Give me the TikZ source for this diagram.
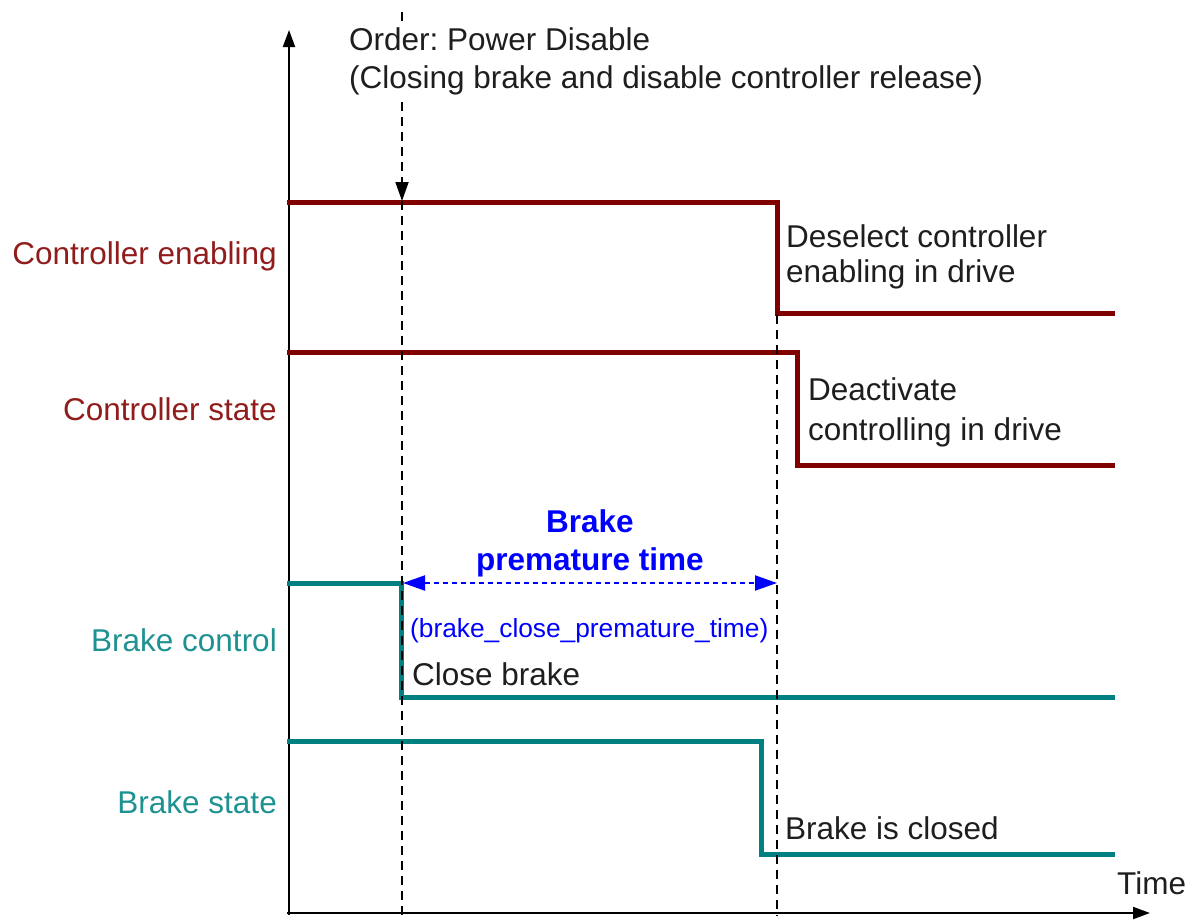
\documentclass[tikz,border=0pt]{standalone}
\usepackage{fontspec}
\setmainfont{Liberation Sans}
\frenchspacing
\usetikzlibrary{arrows.meta}
\definecolor{sigred}{RGB}{128,0,0}
\definecolor{lblred}{RGB}{145,28,28}
\definecolor{sigteal}{RGB}{0,128,128}
\definecolor{lblteal}{RGB}{30,145,145}
\definecolor{txt}{RGB}{30,30,30}
\definecolor{dimblue}{RGB}{0,0,255}
\begin{document}
\begin{tikzpicture}[x=1pt,y=-1pt,line join=miter,
  sigR/.style={draw=sigred,line width=5pt},
  sigT/.style={draw=sigteal,line width=5pt},
  axisline/.style={draw=black,line width=2pt,-{Triangle[length=17pt,width=12pt]}},
  guide/.style={draw=black,line width=1.8pt,dash pattern=on 9pt off 6pt},
  dimline/.style={draw=dimblue,line width=2pt,dash pattern=on 5pt off 4pt,
    {Triangle[length=22pt,width=15pt]}-{Triangle[length=22pt,width=15pt]}},
  lbl/.style={inner sep=0pt,font=\fontsize{31.5}{36}\selectfont},
  note/.style={inner sep=0pt,text=txt,align=left,anchor=north west},
]
\useasboundingbox (0,0) rectangle (1194,919);

% axes
\coordinate (origin) at (289,915);
\coordinate (ytop) at (289,30);
\coordinate (xend) at (1150,913);
\coordinate (xstart) at (287,913);
\draw[axisline] (origin) -- (ytop);
\draw[axisline] (xstart) -- (xend);

% signals
\coordinate (ce0) at (287,202); \coordinate (ce1) at (777,202);
\coordinate (ce2) at (777,313); \coordinate (ce3) at (1115,313);
\draw[sigR] (ce0) -- (ce1) -- (ce2) -- (ce3);
\coordinate (cs0) at (287,352); \coordinate (cs1) at (797,352);
\coordinate (cs2) at (797,465); \coordinate (cs3) at (1115,465);
\draw[sigR] (cs0) -- (cs1) -- (cs2) -- (cs3);
\coordinate (bc0) at (287,583); \coordinate (bc1) at (401,583);
\coordinate (bc2) at (401,697); \coordinate (bc3) at (1115,697);
\draw[sigT] (bc0) -- (bc1) -- (bc2) -- (bc3);
\coordinate (bs0) at (287,741); \coordinate (bs1) at (761,741);
\coordinate (bs2) at (761,854); \coordinate (bs3) at (1115,854);
\draw[sigT] (bs0) -- (bs1) -- (bs2) -- (bs3);

% guide lines
\coordinate (g1top) at (402,12);
\coordinate (g1arr) at (402,201);
\coordinate (g1bot) at (402,916);
\coordinate (g2top) at (777,315);
\coordinate (g2bot) at (777,916);
\draw[guide,-{Triangle[length=19pt,width=13pt]}] (g1top) -- (g1arr);
\draw[guide] (g1arr) -- (g1bot);
\draw[guide] (g2top) -- (g2bot);

% order text
\node[note,fill=white,inner sep=2pt,font=\fontsize{31.5}{38}\selectfont] (order) at (347,25)
  {Order: Power Disable\\(Closing brake and disable controller release)};

% left labels
\node[lbl,text=lblred,anchor=base east] (lce) at (277,264) {Controller enabling};
\node[lbl,text=lblred,anchor=base east] (lcs) at (277,420) {Controller state};
\node[lbl,text=lblteal,anchor=base east] (lbc) at (277,651) {Brake control};
\node[lbl,text=lblteal,anchor=base east] (lbs) at (277,813) {Brake state};

% notes
\node[note,font=\fontsize{31.5}{35}\selectfont] (desel) at (786,224)
  {Deselect controller\\enabling in drive};
\node[note,font=\fontsize{31.5}{40}\selectfont] (deact) at (808,377)
  {Deactivate\\controlling in drive};
\node[lbl,text=txt,anchor=base west] (close) at (412,685) {Close brake};
\node[lbl,text=txt,anchor=base west] (closed) at (785,839) {Brake is closed};
\node[lbl,text=txt,anchor=base west] (time) at (1117,894) {Time};

% dimension
\coordinate (d1) at (403,583);
\coordinate (d2) at (777,583);
\draw[dimline] (d1) -- (d2);
\node[inner sep=0pt,text=dimblue,align=center,anchor=north,
  font=\fontsize{31.5}{38}\bfseries\selectfont] (ptime) at (590,509)
  {Brake\\premature time};
\node[inner sep=0pt,text=dimblue,anchor=base west,
  font=\fontsize{26.3}{30}\selectfont] (pvar) at (410,637)
  {(brake\_close\_premature\_time)};
\end{tikzpicture}
\end{document}
